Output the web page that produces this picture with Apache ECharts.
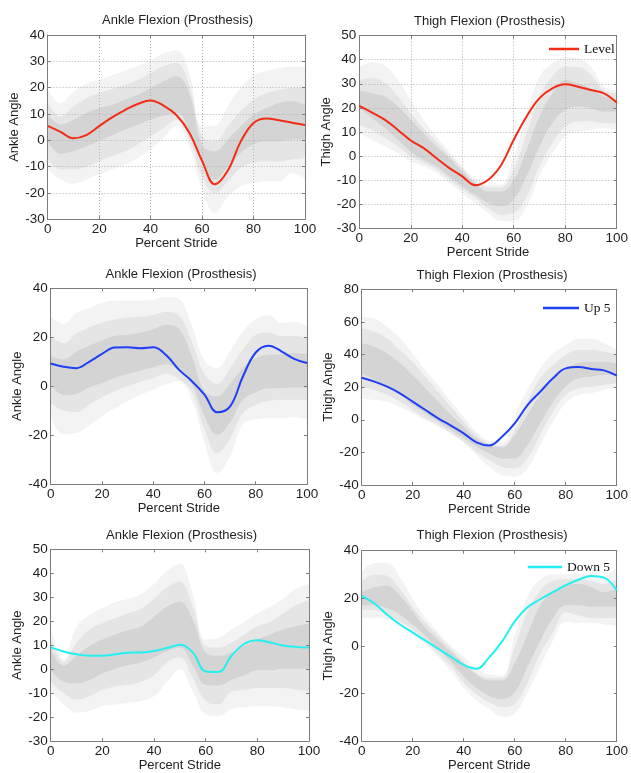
<!DOCTYPE html>
<html>
<head>
<meta charset="utf-8">
<title>Ankle and Thigh Flexion (Prosthesis)</title>
<script src="https://cdn.jsdelivr.net/npm/echarts@6/dist/echarts.min.js"></script>
<style>
  html, body { margin: 0; padding: 0; background: #ffffff; }
  #chart { width: 631px; height: 773px; }
</style>
</head>
<body>
<div id="chart"></div>
<script>
// Percent of stride at which every curve and band edge is sampled
const stride = [0, 5, 10, 15, 20, 25, 30, 35, 40, 45, 50, 55, 60, 65, 70, 75, 80, 85, 90, 95, 100];
const strideTicks = [0, 20, 40, 60, 80, 100];

// ---- Ankle, level walking ----
const ankleLevelYTicks = [-30, -20, -10, 0, 10, 20, 30, 40];
const ankleLevelLine    = [5.5, 3.2, 0.8, 2, 5.4, 8.7, 11.5, 13.8, 15.1, 13.2, 9.6, 3, -7.8, -16.7, -11.5, -0.5, 6.6, 8.3, 7.6, 6.7, 5.8];
const ankleLevelOuterHi = [19.5, 14, 18.5, 21.5, 23, 24.7, 26.4, 28.3, 30.5, 33, 34.2, 25.6, 5.3, 5.5, 13, 20, 24.5, 26.4, 27.5, 28, 27.8];
const ankleLevelMidHi   = [14.5, 9, 12.9, 16, 18, 19.5, 21.1, 23, 25.6, 28.1, 29.4, 21, 1.5, -0.4, 5.3, 11, 15.4, 18, 19.2, 19.9, 19.9];
const ankleLevelInnerHi = [9.7, 6, 7.8, 10.4, 12.3, 13.5, 15.4, 17.3, 19.9, 22.4, 24.3, 18, -1.6, -4.2, 0.3, 5.3, 9.7, 12.3, 14.2, 14.8, 13.5];
const ankleLevelInnerLo = [-0.4, -5.1, -4.2, -2.3, -0.4, 1.8, 4, 5.9, 7.8, 9.4, 10.4, 4, -8.6, -14.9, -9.9, -4.8, -1.6, -0.4, -0.4, 0.3, 0.3];
const ankleLevelMidLo   = [-6.7, -11.1, -11.1, -9.9, -8, -6, -4.2, -1.6, 1.5, 4.7, 7.8, 0.3, -13.7, -20, -15.6, -10.5, -8.6, -8, -8, -7.3, -6.7];
const ankleLevelOuterLo = [-11.1, -14.9, -16.5, -14.9, -13, -11.1, -9.2, -6.7, -3.5, 0.9, 5.3, -2.3, -18.7, -27.6, -21.3, -17.5, -16.2, -15.6, -15.6, -12.5, -14.5];

// ---- Thigh, level walking ----
const thighLevelYTicks = [-30, -20, -10, 0, 10, 20, 30, 40, 50];
const thighLevelLine    = [20.8, 18, 15, 10.8, 6.4, 3.2, -1, -5.1, -8.5, -12.2, -10, -4, 6.7, 16.4, 24, 28.1, 29.8, 28.8, 27.4, 26, 22.2];
const thighLevelOuterHi = [37, 39, 37.5, 31.6, 23.3, 15, 8.1, 1.8, -4.4, -9.5, -12, -12, 0, 17, 33, 38.5, 41, 40.5, 37, 28.8, 27.4];
const thighLevelMidHi   = [31.6, 32.3, 30.2, 24.7, 17.8, 11.5, 6, 0.4, -5.1, -10.6, -13, -13, -5.8, 9.4, 24.7, 33, 37.1, 37.1, 33.7, 27.4, 26];
const thighLevelInnerHi = [27.2, 26, 24.7, 20.5, 15, 9.4, 3.9, -0.9, -6.5, -11.3, -14.8, -14.8, -9.9, 2.5, 16.4, 26, 31.6, 30.2, 28.1, 24.7, 23.3];
const thighLevelInnerLo = [19.8, 15.7, 11.5, 6.7, 1.8, -1.7, -4.4, -8.5, -12.7, -16.2, -19.6, -21, -18.2, -8.5, 3.9, 13.6, 19.1, 20.5, 19.8, 18.4, 18.4];
const thighLevelMidLo   = [12.9, 10.8, 7.4, 3.9, -0.2, -3, -5.8, -9.9, -14, -17.5, -21.7, -24.5, -23.8, -16.9, -4.4, 5.3, 12.2, 14.3, 14.3, 13.6, 13.6];
const thighLevelOuterLo = [9.4, 6.7, 3.9, 1.1, -2.3, -4.4, -7.2, -11.3, -15.5, -19.6, -23.8, -27.2, -27.2, -21, -8.5, 1.1, 8.1, 10.1, 10.8, 11.5, 10.8];

// ---- Ankle, 5 degree incline ----
const ankleUpYTicks = [-40, -20, 0, 20, 40];
const ankleUpLine    = [9.3, 8, 7.4, 10, 13.2, 15.8, 15.9, 15.5, 15.9, 12.8, 6.8, 2.2, -3.4, -10.6, -8.2, 4, 13.8, 16.6, 14.3, 11.2, 9.5];
const ankleUpOuterHi = [28.5, 25.5, 30, 32, 34, 35, 35, 35, 35.3, 36.4, 35.7, 25, 10.5, 7.5, 14.5, 22.5, 27.5, 29, 25.8, 26.2, 24.7];
const ankleUpMidHi   = [20.5, 17.5, 21.5, 24, 26, 27.3, 28, 28.4, 29.1, 30.3, 29, 18.4, 5, 1, 7.5, 15, 21, 22, 20.5, 20.5, 19.8];
const ankleUpInnerHi = [12.5, 11, 14.2, 16.5, 18.8, 20.5, 21, 22, 23.3, 25, 23.5, 12.5, -2, -4, 1, 7.5, 11.5, 12.9, 13, 13.5, 13.2];
const ankleUpInnerLo = [0.6, -3.5, -3, -0.5, 1.3, 3.5, 5, 6.5, 7.8, 9, 6.5, 1, -12, -19.8, -14.7, -5.5, -2.4, -0.8, -0.8, -0.5, -0.6];
const ankleUpMidLo   = [-6.8, -10, -10.5, -7.5, -4.5, -2, 0, 1.8, 3.4, 5, 3, -2, -17.6, -27.2, -21.3, -11, -7.5, -6, -5.5, -5.5, -5.5];
const ankleUpOuterLo = [-12.5, -19.5, -19, -16, -12.2, -9, -6.1, -3.5, -1.4, 0.8, 2.2, -5.4, -23, -35.3, -28.5, -15.5, -13.6, -13, -13, -12.5, -13.5];

// ---- Thigh, 5 degree incline ----
const thighUpYTicks = [-40, -20, 0, 20, 40, 60, 80];
const thighUpLine    = [25.8, 23.4, 20.3, 16.2, 11.1, 6, 0.9, -3.6, -8.3, -13.9, -15.8, -10.4, -2.2, 9, 17.2, 25.4, 31.5, 32.3, 31.1, 30.3, 27];
const thighUpOuterHi = [63, 62, 57, 50, 40.7, 30.5, 21.3, 11.1, 1.9, -7.3, -13, -14, 3, 18.2, 31.5, 40.7, 45.8, 49.9, 49.9, 46.9, 42.8];
const thighUpMidHi   = [56, 54, 49.9, 42.8, 35.6, 26.4, 17.2, 8, -1.2, -9.4, -14.5, -16, -6.3, 11.1, 25.4, 33.6, 39.7, 42.8, 42.8, 41.8, 39.7];
const thighUpInnerHi = [46.9, 44.8, 40.7, 34.6, 27.4, 19.3, 11.1, 2.9, -4.3, -11.4, -15.5, -17, -9.4, 2.9, 15.2, 24.4, 30.5, 35, 35.6, 35.6, 34.6];
const thighUpInnerLo = [28.5, 24.4, 20.3, 15.2, 9, 3.9, -1.2, -6.3, -11.4, -16.5, -20.6, -23.7, -23.7, -15.5, -2.2, 11.1, 20.3, 25.4, 26.4, 27.4, 27.4];
const thighUpMidLo   = [20.3, 18.2, 15.2, 11.1, 6, 0.9, -3.2, -8.3, -13.5, -19.6, -24.7, -28.8, -29.8, -23.7, -9.4, 4.9, 15.2, 19.3, 20.3, 21.3, 22.3];
const thighUpOuterLo = [13.1, 12.1, 11.1, 8, 3.9, -0.2, -4.3, -8.5, -14, -21.6, -28.8, -33.9, -34.9, -29.8, -15.5, -1.2, 10.1, 15.2, 16.2, 18.2, 20.3];

// ---- Ankle, 5 degree decline ----
const ankleDownYTicks = [-30, -20, -10, 0, 10, 20, 30, 40, 50];
const ankleDownLine    = [9.1, 7.4, 6.2, 5.6, 5.6, 6.2, 6.9, 7, 7.6, 8.8, 10.2, 7, -1, -1.2, 5.6, 10.6, 12.1, 11.1, 9.9, 9.3, 9];
const ankleDownOuterHi = [17.8, 4, 17.8, 22.6, 25.3, 28, 29.4, 31.4, 35.5, 40.9, 44, 31.4, 12.4, 13.1, 16.5, 19.9, 23.3, 26, 29.4, 33.4, 35.5];
const ankleDownMidHi   = [13, 3, 11.1, 16.5, 19.2, 21.3, 23.3, 25.3, 29.4, 34.1, 36.5, 26, 9.7, 9, 11.1, 14.5, 17.9, 19.9, 23.3, 26.7, 28.7];
const ankleDownInnerHi = [8.5, 1.5, 5.6, 9.7, 12.4, 14.5, 16.2, 17.8, 21.9, 26, 28.3, 20.6, 7, 5.6, 7, 9.7, 12.4, 14.5, 16.5, 17.9, 19.2];
const ankleDownInnerLo = [-0.5, -5.2, -5.9, -4.5, -1.8, 0.2, 1.6, 2.9, 4.9, 7.5, 9, 1.6, -6.6, -6.8, -4.5, -2.5, -0.5, -0.5, 0.2, 0.2, 0.2];
const ankleDownMidLo   = [-5.2, -9.9, -12.7, -11.3, -8.6, -7.2, -6.6, -5.2, -2.5, 2.9, 5, -3.8, -13.3, -14.7, -9.3, -8.6, -7.9, -7.9, -7.9, -8.6, -9.3];
const ankleDownOuterLo = [-9.3, -14.7, -18.1, -17.4, -15.4, -14.7, -14, -13.3, -11.3, -5.2, 0, -9.3, -18.8, -19.5, -16.7, -16, -15.4, -15.4, -16, -16.7, -17.4];

// ---- Thigh, 5 degree decline ----
const thighDownYTicks = [-40, -20, 0, 20, 40];
const thighDownLine    = [21, 17.8, 13.1, 9, 5.6, 2.2, -1.2, -4.6, -8, -9.6, -4.8, 1.8, 10.3, 16.2, 19.6, 22.6, 25.5, 27.8, 29.4, 28.7, 23.4];
const thighDownOuterHi = [31, 34.8, 35, 28.7, 19.9, 11.7, 5.6, 0.1, -4.6, -9.4, -12.1, -12.5, 4.9, 20.5, 28, 30, 30, 30, 30, 29.4, 32.8];
const thighDownMidHi   = [26.7, 30, 29.4, 24, 16.5, 9.7, 4.2, -1.2, -6.7, -11.4, -13.5, -13.5, -0.5, 14.4, 23.3, 27.3, 28, 28, 27.3, 26, 28];
const thighDownInnerHi = [22.6, 24.6, 25.3, 21.2, 14.5, 7.5, 2.5, -2.5, -7.5, -12, -14.5, -14.5, -7.3, 4.9, 17.1, 22.6, 25.3, 26, 24.6, 22.6, 23.9];
const thighDownInnerLo = [17.1, 17.1, 15.8, 13.1, 9, 4.2, -1.2, -6.7, -12.8, -17.6, -21, -22.3, -19.6, -8.7, 2.2, 11.7, 17.1, 17.1, 16.5, 16.5, 16.5];
const thighDownMidLo   = [15.1, 15.1, 13.1, 10.3, 6.9, 2.2, -3.3, -8.7, -15.5, -20.3, -23.7, -25.7, -24.4, -15.5, -3.3, 5.6, 14, 12.8, 11.7, 11.7, 11.7];
const thighDownOuterLo = [11.7, 11.7, 11, 9, 4.9, 0.8, -4.6, -10.7, -17.6, -23, -26.4, -29.8, -28.4, -19.6, -8.7, 2.2, 10.3, 9.7, 9.7, 9, 8.3];

// ---- styling ----
const RED = '#f42c14';
const BLUE = '#1f3ff5';
const CYAN = '#22f0f0';
const LIGHT = '#f3f3f3';
const MEDIUM = '#e5e5e5';
const DARK = '#d4d4d4';
const AXIS_COLOR = '#7c7c7c';
const TEXT_COLOR = '#1e1e1e';
const SANS = '"Liberation Sans", Arial, sans-serif';
const SERIF = '"Liberation Serif", "Times New Roman", serif';

const panels = [
  { key: 'ankle-level', title: 'Ankle Flexion (Prosthesis)', yName: 'Ankle Angle', yTicks: ankleLevelYTicks,
    line: ankleLevelLine, color: RED, dotted: true,
    edges: [ankleLevelOuterHi, ankleLevelMidHi, ankleLevelInnerHi, ankleLevelInnerLo, ankleLevelMidLo, ankleLevelOuterLo] },
  { key: 'thigh-level', title: 'Thigh Flexion (Prosthesis)', yName: 'Thigh Angle', yTicks: thighLevelYTicks,
    line: thighLevelLine, color: RED, dotted: true, legend: 'Level',
    edges: [thighLevelOuterHi, thighLevelMidHi, thighLevelInnerHi, thighLevelInnerLo, thighLevelMidLo, thighLevelOuterLo] },
  { key: 'ankle-up', title: 'Ankle Flexion (Prosthesis)', yName: 'Ankle Angle', yTicks: ankleUpYTicks,
    line: ankleUpLine, color: BLUE, dotted: false,
    edges: [ankleUpOuterHi, ankleUpMidHi, ankleUpInnerHi, ankleUpInnerLo, ankleUpMidLo, ankleUpOuterLo] },
  { key: 'thigh-up', title: 'Thigh Flexion (Prosthesis)', yName: 'Thigh Angle', yTicks: thighUpYTicks,
    line: thighUpLine, color: BLUE, dotted: false, legend: 'Up 5',
    edges: [thighUpOuterHi, thighUpMidHi, thighUpInnerHi, thighUpInnerLo, thighUpMidLo, thighUpOuterLo] },
  { key: 'ankle-down', title: 'Ankle Flexion (Prosthesis)', yName: 'Ankle Angle', yTicks: ankleDownYTicks,
    line: ankleDownLine, color: CYAN, dotted: false,
    edges: [ankleDownOuterHi, ankleDownMidHi, ankleDownInnerHi, ankleDownInnerLo, ankleDownMidLo, ankleDownOuterLo] },
  { key: 'thigh-down', title: 'Thigh Flexion (Prosthesis)', yName: 'Thigh Angle', yTicks: thighDownYTicks,
    line: thighDownLine, color: CYAN, dotted: false, legend: 'Down 5',
    edges: [thighDownOuterHi, thighDownMidHi, thighDownInnerHi, thighDownInnerLo, thighDownMidLo, thighDownOuterLo] }
];

// Nested envelopes are painted top edge first, each area filled down to the
// axis minimum; every later edge repaints below itself with the next shade.
const EDGE_FILLS = [LIGHT, MEDIUM, DARK, MEDIUM, LIGHT, '#ffffff'];

// plot rectangles (px), title anchors and legend placement
const layout = [
  { left: 47.7,  top: 35,    width: 257.3, height: 184.3, tx: 177.5, ty: 20.7 },
  { left: 359.3, top: 35.7,  width: 257.4, height: 192.3, tx: 489.5, ty: 21,    lx: 549, ly: 42,  lw: 30 },
  { left: 50.7,  top: 288.3, width: 256.3, height: 196,   tx: 181,   ty: 274 },
  { left: 361.7, top: 289.3, width: 257.6, height: 195.7, tx: 492,   ty: 275,   lx: 543, ly: 301, lw: 36 },
  { left: 50.7,  top: 549.3, width: 258.3, height: 196.7, tx: 181.5, ty: 535 },
  { left: 361.7, top: 550.7, width: 257.6, height: 196,   tx: 492,   ty: 535.7, lx: 528, ly: 560, lw: 34 }
];

const SMOOTH = 0.4;
const grids = [], xAxes = [], yAxes = [], series = [], legends = [], titles = [];

panels.forEach((p, i) => {
  const L = layout[i];
  grids.push({ left: L.left, top: L.top, width: L.width, height: L.height, show: false, containLabel: false });

  const yMin = p.yTicks[0];
  const yMax = p.yTicks[p.yTicks.length - 1];
  const yStep = p.yTicks[1] - p.yTicks[0];
  const xMin = strideTicks[0];
  const xMax = strideTicks[strideTicks.length - 1];
  const xStep = strideTicks[1] - strideTicks[0];

  const axisBase = {
    gridIndex: i,
    type: 'value',
    z: 2,
    axisLine: { show: true, onZero: false, lineStyle: { color: AXIS_COLOR, width: 1 } },
    axisTick: { show: true, inside: true, length: 3, lineStyle: { color: AXIS_COLOR, width: 1 } }
  };
  const dots = { show: p.dotted, lineStyle: { color: '#b2b2b2', width: 1, type: [1, 2] } };
  const label = { color: TEXT_COLOR, fontSize: 13.5, fontFamily: SANS };

  xAxes.push(Object.assign({}, axisBase, {
    position: 'bottom', min: xMin, max: xMax, interval: xStep,
    name: 'Percent Stride', nameLocation: 'middle', nameGap: 15.5,
    nameTextStyle: { color: TEXT_COLOR, fontSize: 13, fontFamily: SANS },
    axisLabel: Object.assign({ margin: 3 }, label),
    splitLine: dots
  }));
  xAxes.push(Object.assign({}, axisBase, {
    position: 'top', min: xMin, max: xMax, interval: xStep,
    axisLabel: { show: false }, splitLine: { show: false }
  }));
  yAxes.push(Object.assign({}, axisBase, {
    position: 'left', min: yMin, max: yMax, interval: yStep,
    name: p.yName, nameLocation: 'middle', nameGap: 25,
    nameTextStyle: { color: TEXT_COLOR, fontSize: 13, fontFamily: SANS },
    axisLabel: Object.assign({ margin: 3 }, label),
    splitLine: dots
  }));
  yAxes.push(Object.assign({}, axisBase, {
    position: 'right', min: yMin, max: yMax, interval: yStep,
    axisLabel: { show: false }, splitLine: { show: false }
  }));

  const axisIdx = 2 * i;

  // shaded spread envelopes
  p.edges.forEach((edge, k) => {
    series.push({
      type: 'line', name: p.key + '-edge' + k, xAxisIndex: axisIdx, yAxisIndex: axisIdx,
      smooth: SMOOTH, symbol: 'none', silent: true, z: 1,
      lineStyle: { width: 0, opacity: 0 },
      areaStyle: { color: EDGE_FILLS[k], opacity: 1, origin: 'start' },
      data: stride.map((x, j) => [x, edge[j]])
    });
  });

  // prosthesis curve
  series.push({
    type: 'line', name: p.legend || (p.key + '-curve'), xAxisIndex: axisIdx, yAxisIndex: axisIdx,
    smooth: SMOOTH, symbol: 'none', z: 3,
    color: p.color, itemStyle: { color: p.color },
    lineStyle: { color: p.color, width: 2 },
    data: stride.map((x, j) => [x, p.line[j]])
  });

  if (p.legend) {
    legends.push({
      data: [p.legend], left: L.lx, top: L.ly, padding: 0, itemGap: 0,
      icon: 'rect', itemWidth: L.lw, itemHeight: 2.5, selectedMode: false,
      textStyle: { color: '#111111', fontSize: 13.5, fontFamily: SERIF }
    });
  }

  titles.push({
    type: 'text', x: L.tx, y: L.ty, z: 10,
    style: { text: p.title, fill: TEXT_COLOR, fontSize: 13, fontFamily: SANS, align: 'center', verticalAlign: 'middle' }
  });
});

const chart = echarts.init(document.getElementById('chart'), null, { renderer: 'canvas' });
chart.setOption({
  animation: false,
  backgroundColor: '#ffffff',
  grid: grids,
  xAxis: xAxes,
  yAxis: yAxes,
  legend: legends,
  graphic: { elements: titles },
  series: series
});
</script>
</body>
</html>
